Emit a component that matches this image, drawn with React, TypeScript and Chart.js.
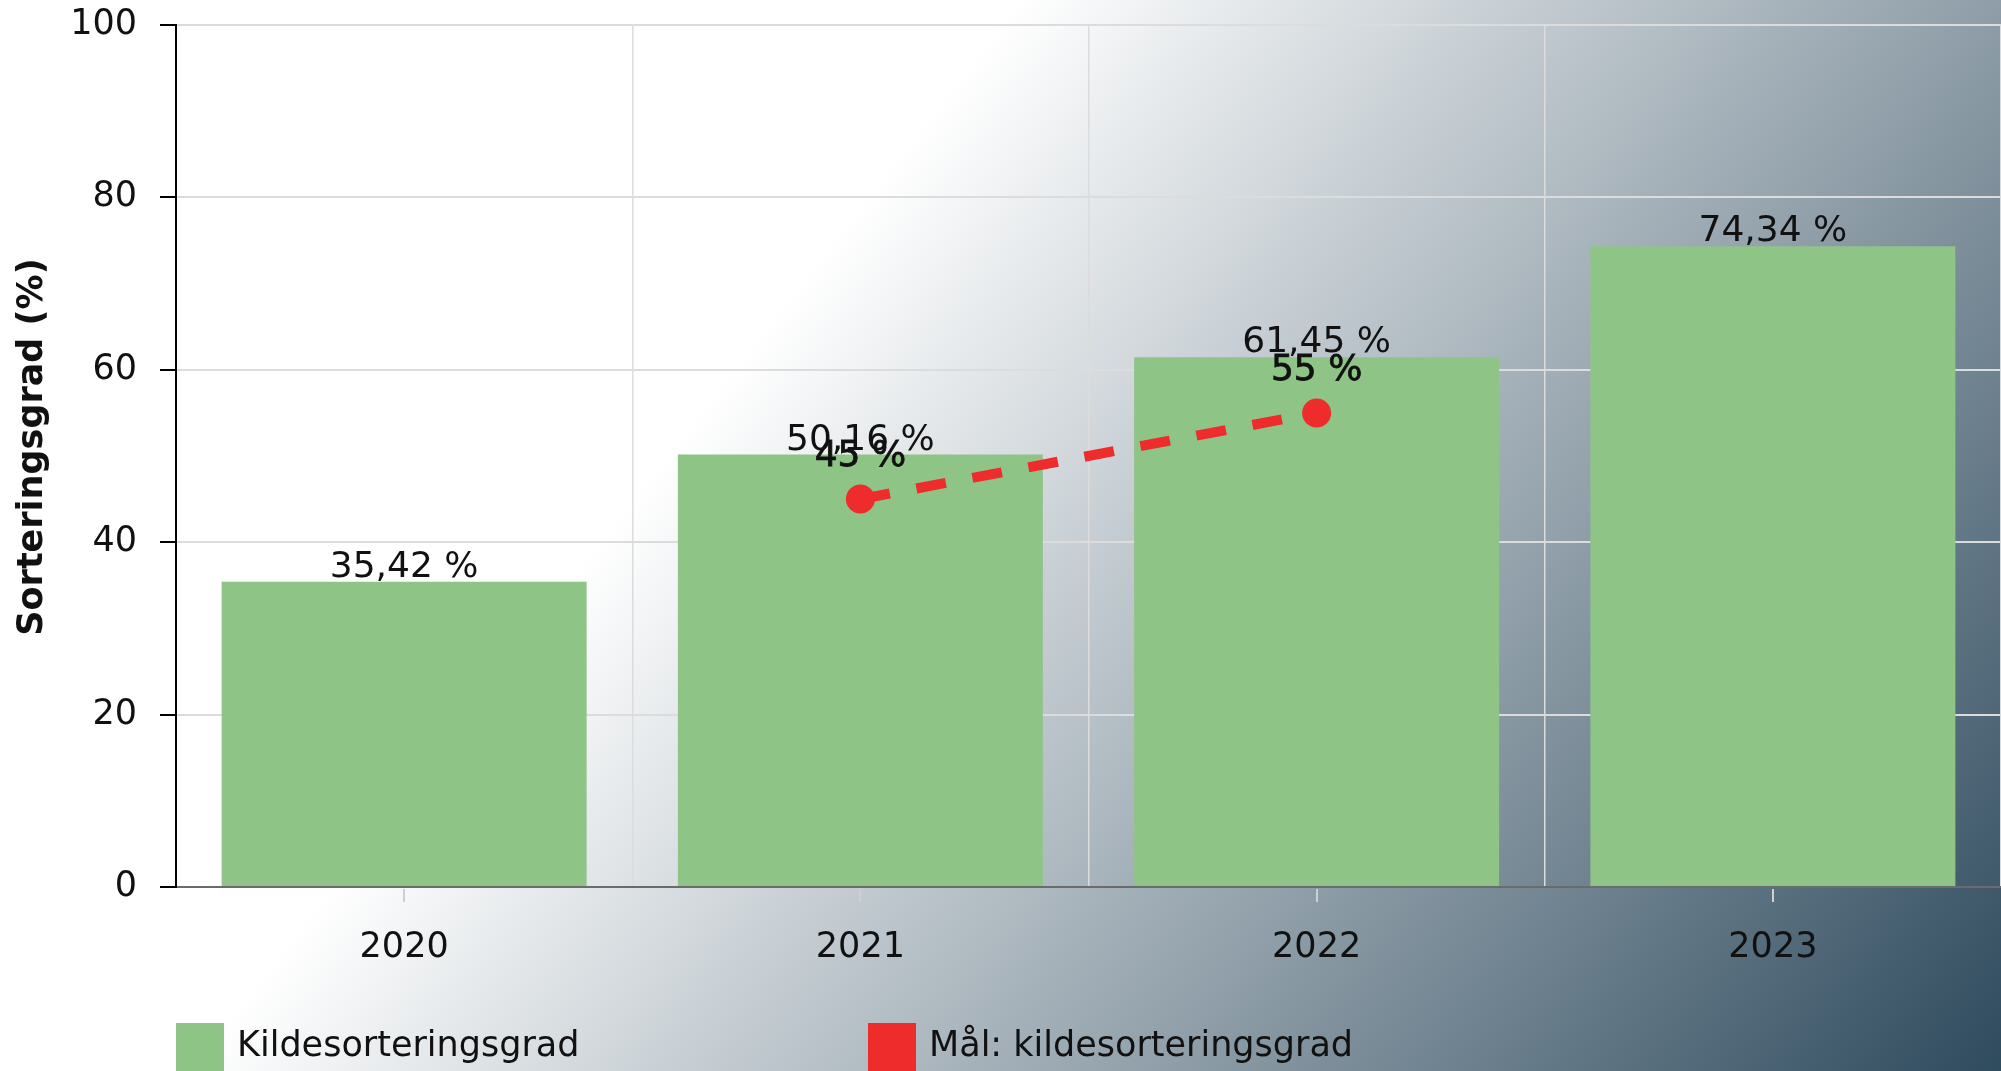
import React, { useEffect, useRef } from 'react';
import { Chart, registerables } from 'chart.js';

Chart.register(...registerables);

const categories = ['2020', '2021', '2022', '2023'];
const sortingRate = [35.42, 50.16, 61.45, 74.34];
const targetRate: (number | null)[] = [null, 45, 55, null];
const yTicks = [0, 20, 40, 60, 80, 100];
const seriesLabels = ['Kildesorteringsgrad', 'Mål: kildesorteringsgrad'];
const yAxisTitle = 'Sorteringsgrad (%)';

const FONT = "'DejaVu Sans', Verdana, sans-serif";
const GREEN = '#8fc487';
const RED = '#ee2c2c';
const GRID = '#dcdcdc';
const TEXT = '#111111';
const W = 2001;
const H = 1071;

const fmtBar = (v: number) => v.toFixed(2).replace('.', ',') + ' %';
const fmtTarget = (v: number) => String(v).replace('.', ',') + ' %';

const backgroundPlugin = {
  id: 'bgGradient',
  beforeDraw(chart: any) {
    const { ctx, width, height } = chart;
    const dx = 0.79;
    const dy = 0.613;
    const g = ctx.createLinearGradient(dx * 806, dy * 806, dx * 2237, dy * 2237);
    g.addColorStop(0, '#ffffff');
    g.addColorStop(1, '#2f4b5e');
    ctx.save();
    ctx.fillStyle = g;
    ctx.fillRect(0, 0, width, height);
    ctx.restore();
  },
};

const axisTitlePlugin = {
  id: 'yAxisTitle',
  afterDraw(chart: any) {
    const { ctx, chartArea } = chart;
    ctx.save();
    ctx.translate(33, (chartArea.top + chartArea.bottom) / 2 - 9);
    ctx.rotate(-Math.PI / 2);
    ctx.font = `bold 35px ${FONT}`;
    ctx.fillStyle = TEXT;
    ctx.textAlign = 'center';
    ctx.textBaseline = 'middle';
    ctx.fillText(yAxisTitle, 0, 0);
    ctx.restore();
  },
};

const centerTicksPlugin = {
  id: 'centerTicks',
  afterDraw(chart: any) {
    const { ctx, chartArea } = chart;
    const xs = chart.scales.x;
    ctx.save();
    ctx.strokeStyle = '#cfcfcf';
    ctx.lineWidth = 2;
    xs.ticks.forEach((_t: any, i: number) => {
      const x = Math.round(xs.getPixelForTick(i));
      ctx.beginPath();
      ctx.moveTo(x, chartArea.bottom + 2);
      ctx.lineTo(x, chartArea.bottom + 15);
      ctx.stroke();
    });
    ctx.restore();
  },
};

const valueLabelsPlugin = {
  id: 'valueLabels',
  afterDatasetsDraw(chart: any) {
    const { ctx } = chart;
    ctx.save();
    ctx.fillStyle = TEXT;
    ctx.textAlign = 'center';
    ctx.textBaseline = 'alphabetic';
    chart.data.datasets.forEach((ds: any, di: number) => {
      const meta = chart.getDatasetMeta(di);
      meta.data.forEach((el: any, i: number) => {
        const v = ds.data[i];
        if (v === null || v === undefined) return;
        ctx.font = `36px ${FONT}`;
        if (ds.type === 'line') {
          ctx.lineWidth = 0.8;
          ctx.strokeStyle = TEXT;
          ctx.fillText(fmtTarget(v), el.x, el.y - 33);
          ctx.strokeText(fmtTarget(v), el.x, el.y - 33);
        } else {
          ctx.fillText(fmtBar(v), el.x, el.y - 5);
        }
      });
    });
    ctx.restore();
  },
};

const legendPlugin = {
  id: 'customLegend',
  afterDraw(chart: any) {
    const { ctx, chartArea, height } = chart;
    const box = 48;
    const top = height - 48;
    const xs = [chartArea.left, chartArea.left + 692];
    ctx.save();
    ctx.font = `35px ${FONT}`;
    ctx.textBaseline = 'middle';
    ctx.textAlign = 'left';
    chart.data.datasets.forEach((ds: any, i: number) => {
      const x = xs[i];
      ctx.fillStyle = ds.legendColor;
      ctx.fillRect(x, top, box, box);
      ctx.fillStyle = TEXT;
      ctx.fillText(ds.label, x + box + 13, top + box / 2);
    });
    ctx.restore();
  },
};

export default function App() {
  const ref = useRef<HTMLCanvasElement | null>(null);

  useEffect(() => {
    document.body.style.margin = '0';
    document.body.style.overflow = 'hidden';
    const canvas = ref.current;
    if (!canvas) return;
    const chart = new Chart(canvas, {
      type: 'bar',
      data: {
        labels: categories,
        datasets: [
          {
            type: 'bar',
            label: seriesLabels[0],
            data: sortingRate,
            backgroundColor: GREEN,
            borderWidth: 0,
            barPercentage: 0.8,
            categoryPercentage: 1,
            order: 1,
            legendColor: GREEN,
          } as any,
          {
            type: 'line',
            label: seriesLabels[1],
            data: targetRate,
            borderColor: RED,
            backgroundColor: RED,
            borderWidth: 10,
            borderDash: [30, 27],
            pointRadius: 14.5,
            pointHoverRadius: 14.5,
            pointBackgroundColor: RED,
            pointBorderColor: RED,
            pointBorderWidth: 0,
            spanGaps: false,
            fill: false,
            order: 0,
            legendColor: RED,
          } as any,
        ],
      },
      options: {
        responsive: false,
        animation: false,
        devicePixelRatio: 1,
        layout: { autoPadding: false, padding: { top: 25, right: 0, bottom: 0, left: 0 } },
        plugins: {
          legend: { display: false },
          tooltip: { enabled: false },
        },
        scales: {
          x: {
            offset: true,
            grid: {
              offset: true,
              color: (c: any) => (c.index === 0 ? 'rgba(0,0,0,0)' : GRID),
              lineWidth: 1.5,
              drawTicks: false,
            },
            border: { color: '#6b6b6b', width: 2 },
            ticks: { font: { family: FONT, size: 35 }, color: TEXT, padding: 40 },
            afterFit: (s: any) => {
              s.height = 184;
              s.paddingLeft = 0;
              s.paddingRight = 0;
            },
          },
          y: {
            min: 0,
            max: 100,
            afterBuildTicks: (s: any) => {
              s.ticks = yTicks.map((v) => ({ value: v }));
            },
            grid: {
              color: GRID,
              lineWidth: 2,
              tickColor: '#000000',
              tickLength: 16,
              tickWidth: 2,
            },
            border: { color: '#000000', width: 2 },
            ticks: { font: { family: FONT, size: 35 }, color: TEXT, padding: 23 },
            title: { display: false },
            afterFit: (s: any) => {
              s.width = 176;
              s.paddingTop = 0;
              s.paddingBottom = 0;
            },
          },
        },
      },
      plugins: [backgroundPlugin, centerTicksPlugin, valueLabelsPlugin, legendPlugin, axisTitlePlugin],
    });
    return () => chart.destroy();
  }, []);

  return (
    <div style={{ width: W, height: H, position: 'relative' }}>
      <canvas ref={ref} width={W} height={H} style={{ display: 'block' }} />
    </div>
  );
}
